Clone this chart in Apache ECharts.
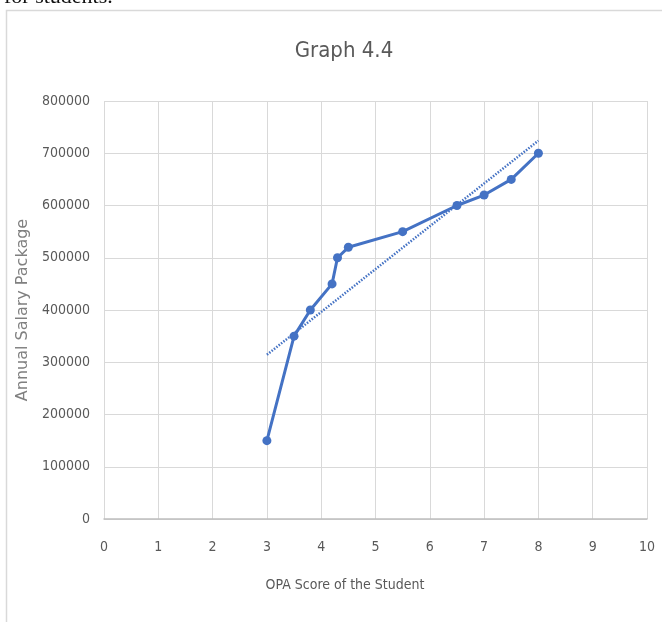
<!DOCTYPE html>
<html>
<head>
<meta charset="utf-8">
<script src="https://cdn.jsdelivr.net/npm/echarts@6/dist/echarts.min.js"></script>
<style>
  html, body { margin: 0; padding: 0; background: #fff; }
  #main { width: 662px; height: 622px; }
</style>
</head>
<body>
<div id="main"></div>
<script>
// OPA score vs annual salary package
const scores = [3, 3.5, 3.8, 4.2, 4.3, 4.5, 5.5, 6.5, 7, 7.5, 8];
const salaries = [150000, 350000, 400000, 450000, 500000, 520000, 550000, 600000, 620000, 650000, 700000];

const lineColor = '#4472C4';
const labelFont = '"DejaVu Sans Condensed", "Liberation Sans Narrow", sans-serif';

// linear trend line (least squares) from the data
function linearFit(xs, ys) {
  const n = xs.length;
  const mx = xs.reduce((a, b) => a + b, 0) / n;
  const my = ys.reduce((a, b) => a + b, 0) / n;
  let sxy = 0, sxx = 0;
  for (let i = 0; i < n; i++) {
    sxy += (xs[i] - mx) * (ys[i] - my);
    sxx += (xs[i] - mx) * (xs[i] - mx);
  }
  const k = sxy / sxx;
  return x => my + k * (x - mx);
}

window.onload = function () {
  const dom = document.getElementById('main');
  const myChart = echarts.init(dom);
  const fit = linearFit(scores, salaries);
  const xFirst = scores[0];
  const xLast = scores[scores.length - 1];

  let option = {
    animation: false,
    title: {
      text: 'Graph 4.4',
      left: 339,
      top: 35,
      textAlign: 'center',
      textStyle: {
        fontFamily: labelFont,
        fontWeight: 'normal',
        fontSize: 22,
        color: '#595959'
      }
    },
    grid: {
      left: 104,
      right: 15,
      top: 101,
      bottom: 103
    },
    graphic: [
      {
        type: 'rect',
        shape: { x: 6.5, y: 10.5, width: 700, height: 650 },
        style: { fill: 'none', stroke: '#d9d9d9', lineWidth: 1.5 },
        silent: true
      },
      {
        type: 'text',
        left: 4,
        top: -14,
        style: {
          text: 'for students.',
          font: '22px "Liberation Serif", serif',
          fill: '#111'
        }
      },
      {
        type: 'text',
        x: 345,
        y: 585,
        style: {
          text: 'OPA Score of the Student',
          font: '14px ' + labelFont,
          fill: '#595959',
          textAlign: 'center',
          textVerticalAlign: 'middle'
        }
      }
    ],
    xAxis: {
      type: 'value',
      min: 0,
      max: 10,
      interval: 1,
      axisLine: { show: true, lineStyle: { color: '#bfbfbf', width: 1.5 } },
      axisTick: { show: false },
      axisLabel: {
        margin: 21,
        fontFamily: labelFont,
        fontSize: 14,
        color: '#595959'
      },
      splitLine: { show: true, lineStyle: { color: '#d9d9d9', width: 1 } }
    },
    yAxis: {
      type: 'value',
      min: 0,
      max: 800000,
      interval: 100000,
      name: 'Annual Salary Package',
      nameLocation: 'middle',
      nameGap: 66,
      nameTextStyle: {
        fontFamily: '"DejaVu Sans", sans-serif',
        fontSize: 16,
        color: '#808080'
      },
      axisLine: { show: false },
      axisTick: { show: false },
      axisLabel: {
        margin: 14,
        fontFamily: labelFont,
        fontSize: 14,
        color: '#595959',
        formatter: v => String(v)
      },
      splitLine: { show: true, lineStyle: { color: '#d9d9d9', width: 1 } }
    },
    series: [
      {
        type: 'line',
        data: scores.map((x, i) => [x, salaries[i]]),
        symbol: 'circle',
        symbolSize: 9,
        showAllSymbol: true,
        lineStyle: { color: lineColor, width: 3 },
        itemStyle: { color: lineColor },
        z: 3
      },
      {
        type: 'line',
        data: [[xFirst, fit(xFirst)], [xLast, fit(xLast)]],
        symbol: 'none',
        lineStyle: { color: lineColor, width: 2.5, type: [1.5, 1.5] },
        z: 2
      }
    ]
  };
  myChart.setOption(option, true);
};
</script>
</body>
</html>
